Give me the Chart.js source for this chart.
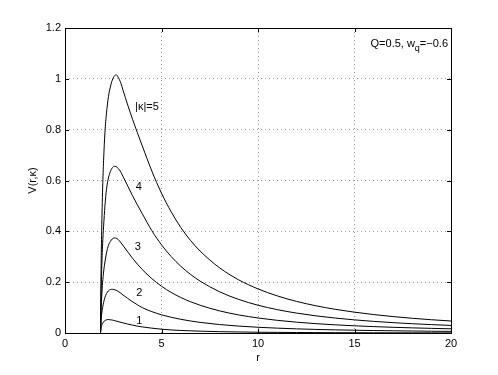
<!DOCTYPE html>
<html>
<head>
<meta charset="utf-8">
<script src="https://cdn.jsdelivr.net/npm/chart.js@4/dist/chart.umd.min.js"></script>
<style>
  html, body { margin: 0; padding: 0; background: #fff; }
  #wrap { width: 498px; height: 375px; }
</style>
</head>
<body>
<div id="wrap"><canvas id="potentialChart" width="498" height="375"></canvas></div>
<script>
// radial coordinate r (shared by all curves)
const rValues = [1.84, 1.87, 1.90, 1.95, 2.00, 2.07, 2.15, 2.25, 2.35, 2.45,
                 2.55, 2.65, 2.75, 2.9, 3.0, 3.25, 3.5, 3.75, 4.0, 4.5,
                 5.0, 5.5, 6.0, 6.5, 7.0, 8, 9, 10, 11, 12,
                 13, 14, 15, 16, 17, 18, 19, 20];

// V(r,kappa) for |kappa| = 1..5
const vKappa1 = [0, 0.02, 0.03, 0.038, 0.044, 0.049, 0.052, 0.053, 0.052, 0.051,
                 0.049, 0.047, 0.045, 0.042, 0.040, 0.035, 0.031, 0.027, 0.024, 0.019,
                 0.015, 0.012, 0.010, 0.0085, 0.0072, 0.0053, 0.004, 0.003, 0.0024, 0.0019,
                 0.0015, 0.0012, 0.001, 0.0008, 0.0007, 0.0006, 0.0005, 0.0004];
const vKappa2 = [0, 0.05, 0.075, 0.10, 0.12, 0.14, 0.155, 0.166, 0.171, 0.172,
                 0.171, 0.168, 0.164, 0.156, 0.150, 0.136, 0.123, 0.111, 0.100, 0.084,
                 0.0716, 0.0618, 0.0539, 0.0473, 0.0418, 0.0333, 0.0272, 0.0226, 0.0191, 0.0163,
                 0.0141, 0.0123, 0.0109, 0.0097, 0.0087, 0.0078, 0.007, 0.0064];
const vKappa3 = [0, 0.09, 0.14, 0.20, 0.24, 0.28, 0.315, 0.345, 0.36, 0.37,
                 0.374, 0.373, 0.368, 0.355, 0.345, 0.319, 0.294, 0.271, 0.25, 0.2138,
                 0.184, 0.1597, 0.1397, 0.1231, 0.1092, 0.0872, 0.0711, 0.0591, 0.0498, 0.0426,
                 0.0368, 0.0321, 0.0283, 0.0251, 0.0224, 0.0202, 0.0182, 0.0165];
const vKappa4 = [0, 0.16, 0.25, 0.35, 0.42, 0.50, 0.565, 0.61, 0.635, 0.65,
                 0.656, 0.655, 0.648, 0.632, 0.617, 0.578, 0.54, 0.504, 0.47, 0.4025,
                 0.347, 0.301, 0.2625, 0.2308, 0.2041, 0.1625, 0.1321, 0.1093, 0.0919, 0.0783,
                 0.0675, 0.0588, 0.0516, 0.0457, 0.0407, 0.0365, 0.0329, 0.0298];
const vKappa5 = [0, 0.25, 0.40, 0.57, 0.68, 0.79, 0.865, 0.93, 0.968, 0.995,
                 1.01, 1.016, 1.007, 0.982, 0.957, 0.897, 0.841, 0.788, 0.737, 0.637,
                 0.55, 0.477, 0.415, 0.3645, 0.3224, 0.257, 0.209, 0.1735, 0.146, 0.1243,
                 0.1071, 0.0932, 0.0819, 0.0725, 0.0646, 0.0579, 0.0521, 0.0472];

const xTicks = [0, 5, 10, 15, 20];
const yTicks = [0, 0.2, 0.4, 0.6, 0.8, 1, 1.2];
const yTickLabels = ['0', '0.2', '0.4', '0.6', '0.8', '1', '1.2'];

// curve labels, placed in data coordinates
const curveLabels = [
    { text: '|\u03ba|=5', r: 3.63, v: 0.89 },
    { text: '4', r: 3.67, v: 0.573 },
    { text: '3', r: 3.61, v: 0.337 },
    { text: '2', r: 3.69, v: 0.156 },
    { text: '1', r: 3.69, v: 0.049 }
];

const FONT = '11px "Liberation Sans", Arial, sans-serif';

function toPoints(values) {
    return rValues.map((r, i) => ({ x: r, y: values[i] }));
}

function lineSet(values) {
    return {
        data: toPoints(values),
        borderColor: '#000',
        borderWidth: 1,
        pointRadius: 0,
        fill: false,
        cubicInterpolationMode: 'monotone'
    };
}

// box, inward ticks and text annotations, drawn like the original figure
const frame = {
    id: 'frame',
    afterDraw(chart) {
        const ctx = chart.ctx;
        const a = chart.chartArea;
        const xs = chart.scales.x, ys = chart.scales.y;
        const tl = 4;
        ctx.save();
        ctx.strokeStyle = '#000';
        ctx.lineWidth = 1;
        ctx.beginPath();
        xTicks.forEach(v => {
            const px = Math.round(xs.getPixelForValue(v)) + 0.5;
            ctx.moveTo(px, a.bottom); ctx.lineTo(px, a.bottom - tl);
            ctx.moveTo(px, a.top); ctx.lineTo(px, a.top + tl);
        });
        yTicks.forEach(v => {
            const py = Math.round(ys.getPixelForValue(v)) + 0.5;
            ctx.moveTo(a.left, py); ctx.lineTo(a.left + tl, py);
            ctx.moveTo(a.right, py); ctx.lineTo(a.right - tl, py);
        });
        ctx.stroke();
        ctx.strokeRect(Math.round(a.left) + 0.5, Math.round(a.top) + 0.5,
                       Math.round(a.right - a.left), Math.round(a.bottom - a.top));

        ctx.fillStyle = '#000';
        ctx.font = FONT;
        ctx.textBaseline = 'middle';
        ctx.textAlign = 'left';
        curveLabels.forEach(l => {
            ctx.fillText(l.text, xs.getPixelForValue(l.r), ys.getPixelForValue(l.v));
        });

        // Q=0.5, w_q=-0.6 in the top right corner
        const part1 = 'Q=0.5, w', sub = 'q', part2 = '=\u22120.6';
        ctx.textBaseline = 'alphabetic';
        const w1 = ctx.measureText(part1).width;
        const w3 = ctx.measureText(part2).width;
        ctx.font = '9px "Liberation Sans", Arial, sans-serif';
        const w2 = ctx.measureText(sub).width;
        const x0 = a.right - 3 - w1 - w2 - w3;
        const base = a.top + 19;
        ctx.font = FONT;
        ctx.fillText(part1, x0, base);
        ctx.font = '9px "Liberation Sans", Arial, sans-serif';
        ctx.fillText(sub, x0 + w1, base + 4);
        ctx.font = FONT;
        ctx.fillText(part2, x0 + w1 + w2, base);
        ctx.restore();
    }
};

const ctx = document.getElementById('potentialChart').getContext('2d');
const potentialChart = new Chart(ctx, {
    type: 'line',
    data: {
        datasets: [
            lineSet(vKappa1),
            lineSet(vKappa2),
            lineSet(vKappa3),
            lineSet(vKappa4),
            lineSet(vKappa5)
        ]
    },
    options: {
        responsive: false,
        animation: false,
        layout: { padding: { top: 28, right: 47, left: 0, bottom: 0 } },
        plugins: {
            legend: { display: false },
            tooltip: { enabled: false }
        },
        scales: {
            x: {
                type: 'linear',
                min: 0,
                max: 20,
                afterBuildTicks: s => { s.ticks = xTicks.map(v => ({ value: v })); },
                afterFit: s => { s.height = 42; },
                grid: { color: '#9a9a9a', lineWidth: 1, drawTicks: false },
                border: { display: false, dash: [1, 3] },
                ticks: {
                    color: '#000',
                    padding: 4,
                    maxRotation: 0,
                    font: { family: '"Liberation Sans", Arial, sans-serif', size: 11 },
                    callback: v => String(v)
                },
                title: {
                    display: true,
                    text: 'r',
                    color: '#000',
                    padding: { top: 0, bottom: 10 },
                    font: { family: '"Liberation Sans", Arial, sans-serif', size: 11 }
                }
            },
            y: {
                type: 'linear',
                min: 0,
                max: 1.2,
                afterBuildTicks: s => { s.ticks = yTicks.map(v => ({ value: v })); },
                afterFit: s => { s.width = 65; },
                grid: { color: '#9a9a9a', lineWidth: 1, drawTicks: false },
                border: { display: false, dash: [1, 3] },
                ticks: {
                    color: '#000',
                    padding: 4,
                    font: { family: '"Liberation Sans", Arial, sans-serif', size: 11 },
                    callback: (v) => {
                        const i = yTicks.indexOf(v);
                        return i >= 0 ? yTickLabels[i] : '';
                    }
                },
                title: {
                    display: true,
                    text: 'V(r,\u03ba)',
                    color: '#000',
                    padding: { top: 26, bottom: 0 },
                    font: { family: '"Liberation Sans", Arial, sans-serif', size: 11 }
                }
            }
        }
    },
    plugins: [frame]
});
</script>
</body>
</html>
